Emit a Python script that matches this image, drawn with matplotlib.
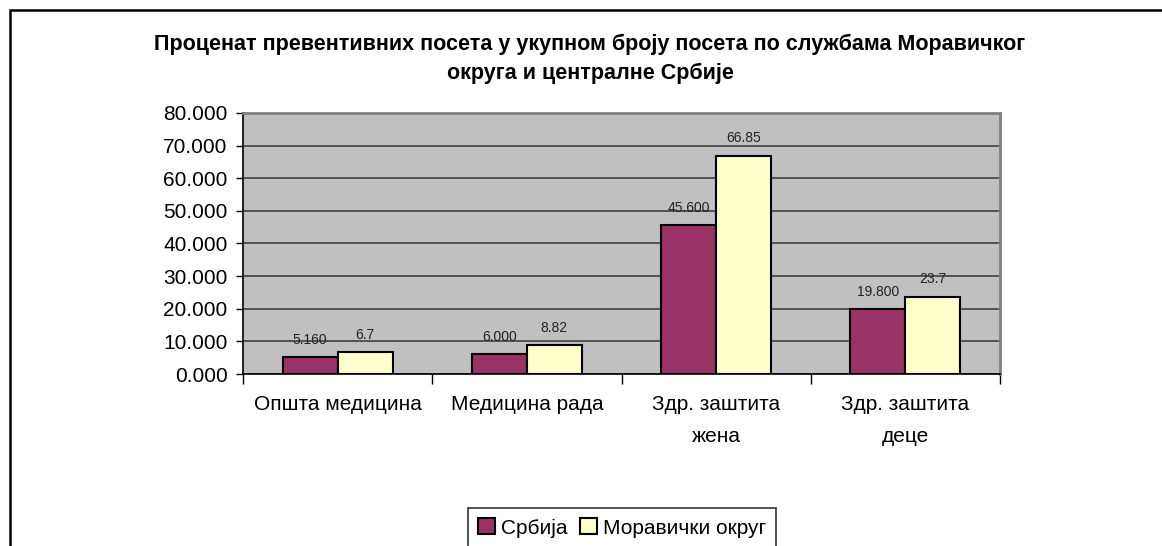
import matplotlib
matplotlib.use("Agg")
import matplotlib.pyplot as plt
from matplotlib.patches import Rectangle
import numpy as np

plt.rcParams['font.family'] = ['Liberation Sans', 'DejaVu Sans']

title = "Проценат превентивних посета у укупном броју посета по службама Моравичког\nокруга и централне Србије"
categories = ["Општа медицина", "Медицина рада", "Здр. заштита\nжена", "Здр. заштита\nдеце"]
series_names = ["Србија", "Моравички округ"]
srbija = [5.160, 6.000, 45.600, 19.800]
moravicki = [6.7, 8.82, 66.85, 23.7]
srbija_labels = ["5.160", "6.000", "45.600", "19.800"]
moravicki_labels = ["6.7", "8.82", "66.85", "23.7"]
yticks = [0, 10, 20, 30, 40, 50, 60, 70, 80]

W, H = 1162, 546
fig = plt.figure(figsize=(W / 100, H / 100), dpi=100)

# outer chart border (extends off the canvas right and bottom)
fig.patches.append(Rectangle((9.5 / W, -0.1), 1.2, 1 - 9.5 / H + 0.1,
                             transform=fig.transFigure, fill=False,
                             edgecolor='black', linewidth=1.8))

ax = fig.add_axes([243 / W, 1 - 374 / H, (1000 - 243) / W, (374 - 113) / H])
ax.set_facecolor('#C0C0C0')

x = np.arange(len(categories))
bw = 0.29
b1 = ax.bar(x - bw / 2, srbija, bw, color='#993366', edgecolor='black', linewidth=1.5, label=series_names[0], zorder=3)
b2 = ax.bar(x + bw / 2, moravicki, bw, color='#FFFFCC', edgecolor='black', linewidth=1.5, label=series_names[1], zorder=3)

for rect, lab in zip(b1, srbija_labels):
    ax.annotate(lab, (rect.get_x() + rect.get_width() / 2, rect.get_height()),
                xytext=(0, 7.5), textcoords='offset points', ha='center', va='bottom',
                fontsize=10, color='#222222', zorder=4)
for rect, lab in zip(b2, moravicki_labels):
    ax.annotate(lab, (rect.get_x() + rect.get_width() / 2, rect.get_height()),
                xytext=(0, 7.5), textcoords='offset points', ha='center', va='bottom',
                fontsize=10, color='#222222', zorder=4)

ax.set_xlim(-0.5, len(categories) - 0.5)
ax.set_ylim(0, 80)
ax.set_yticks(yticks)
ax.set_yticklabels([f"{v:.3f}" for v in yticks], fontsize=15)
ax.yaxis.grid(True, color='#404040', linewidth=1.2, zorder=1)
ax.set_axisbelow(True)
ax.tick_params(axis='y', length=5, width=1, color='black', pad=6)

# category boundaries as major ticks, labels as minor ticks
ax.set_xticks(np.arange(len(categories) + 1) - 0.5)
ax.set_xticklabels([])
ax.tick_params(axis='x', which='major', length=7, width=1, color='black')
ax.set_xticks(x, minor=True)
ax.set_xticklabels(categories, minor=True, fontsize=15, linespacing=1.85)
ax.tick_params(axis='x', which='minor', length=0, pad=15)

for s in ['top', 'right']:
    ax.spines[s].set_color('#808080')
    ax.spines[s].set_linewidth(2)
for s in ['left', 'bottom']:
    ax.spines[s].set_color('black')
    ax.spines[s].set_linewidth(1.2)

fig.text(590 / W, 1 - 59 / H, title, ha='center', va='center', fontsize=15.5,
         fontweight='bold', linespacing=1.45)

leg = fig.legend(handles=[b1, b2], labels=series_names, loc='upper center',
                 bbox_to_anchor=(622 / W, 1 - 508 / H), ncol=2, fontsize=15,
                 frameon=True, fancybox=False, edgecolor='black',
                 handlelength=0.8, handleheight=0.8, handletextpad=0.3,
                 columnspacing=0.6, borderpad=0.5, borderaxespad=0)
leg.get_frame().set_linewidth(1.2)

fig.savefig("out.png", dpi=100)
